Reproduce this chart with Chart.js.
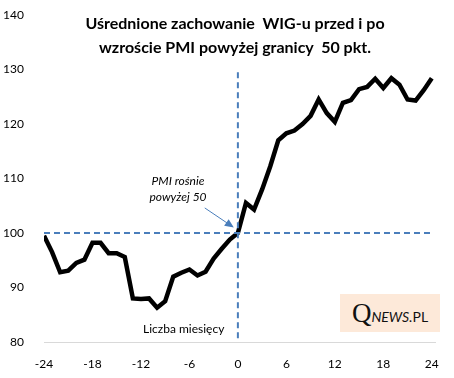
<head>
    <title> WIG a PMI </title>
</head>

<body>
    <div id="wrap">
        <canvas id="wigChart" width="454" height="378"></canvas>
        <div id="title">Uśrednione zachowanie&nbsp; WIG-u przed i po<br>wzroście PMI powyżej granicy&nbsp; 50 pkt.</div>
        <div id="note">PMI rośnie<br>powyżej 50</div>
        <div id="xname">Liczba miesięcy</div>
        <div id="logo"><span class="q">Q</span><span class="n">NEWS.</span><span class="p">PL</span></div>
    </div>

    <script src="https://cdn.jsdelivr.net/npm/chart.js@4.4.3/dist/chart.umd.js"></script>

    <script>
        // months relative to PMI crossing 50
        const months = [-24, -23, -22, -21, -20, -19, -18, -17, -16, -15, -14, -13, -12, -11, -10, -9, -8, -7, -6, -5, -4, -3, -2, -1,
            0, 1, 2, 3, 4, 5, 6, 7, 8, 9, 10, 11, 12, 13, 14, 15, 16, 17, 18, 19, 20, 21, 22, 23, 24];
        const wig = [99.5, 96.5, 92.8, 93.1, 94.5, 95.1, 98.2, 98.2, 96.3, 96.3, 95.6, 88.0, 87.9, 88.0, 86.3, 87.5, 92.0, 92.7, 93.3, 92.2, 92.9, 95.3, 97.1, 98.8,
            100, 105.5, 104.3, 108, 112.2, 117, 118.3, 118.8, 120, 121.5, 124.5, 122, 120.4, 123.9, 124.4, 126.4, 126.8, 128.3, 126.6, 128.4, 127.2, 124.5, 124.3, 126.2, 128.4];
        const yTicks = [80, 90, 100, 110, 120, 130, 140];
        const xTicks = [-24, -18, -12, -6, 0, 6, 12, 18, 24];
        const baseLevel = 100;      // horizontal dashed line
        const vLineTop = 129.5;     // vertical dashed line at month 0
        const arrowFrom = [-4.1, 104.6];
        const arrowTo = [-0.5, 101.0];

        const blue = '#4a7ebb';

        const arrowPlugin = {
            id: 'arrow',
            afterDatasetsDraw(chart) {
                const { ctx, scales: { x, y } } = chart;
                const x1 = x.getPixelForValue(arrowFrom[0]), y1 = y.getPixelForValue(arrowFrom[1]);
                const x2 = x.getPixelForValue(arrowTo[0]), y2 = y.getPixelForValue(arrowTo[1]);
                const a = Math.atan2(y2 - y1, x2 - x1);
                ctx.save();
                ctx.strokeStyle = blue;
                ctx.fillStyle = blue;
                ctx.lineWidth = 1;
                ctx.beginPath();
                ctx.moveTo(x1, y1);
                ctx.lineTo(x2 - 6 * Math.cos(a), y2 - 6 * Math.sin(a));
                ctx.stroke();
                ctx.beginPath();
                ctx.moveTo(x2, y2);
                ctx.lineTo(x2 - 9 * Math.cos(a) + 4 * Math.sin(a), y2 - 9 * Math.sin(a) - 4 * Math.cos(a));
                ctx.lineTo(x2 - 9 * Math.cos(a) - 4 * Math.sin(a), y2 - 9 * Math.sin(a) + 4 * Math.cos(a));
                ctx.closePath();
                ctx.fill();
                ctx.restore();
            }
        };

        new Chart(document.getElementById('wigChart'), {
            type: 'line',
            data: {
                datasets: [{
                    label: 'poziom 100',
                    data: [{ x: months[0], y: baseLevel }, { x: months[months.length - 1], y: baseLevel }],
                    borderColor: blue,
                    borderWidth: 2,
                    borderDash: [6, 4],
                    pointRadius: 0
                }, {
                    label: 'miesiąc 0',
                    data: [{ x: 0, y: vLineTop }, { x: 0, y: yTicks[0] }],
                    borderColor: blue,
                    borderWidth: 2,
                    borderDash: [6, 4],
                    pointRadius: 0
                }, {
                    label: 'WIG',
                    data: months.map((m, i) => ({ x: m, y: wig[i] })),
                    borderColor: '#000',
                    borderWidth: 4.5,
                    pointRadius: 0,
                    tension: 0
                }]
            },
            options: {
                responsive: false,
                animation: false,
                layout: { padding: { top: 15, right: 19, left: 0, bottom: 0 } },
                plugins: { legend: { display: false }, tooltip: { enabled: false } },
                scales: {
                    x: {
                        type: 'linear',
                        min: -24,
                        max: 24.4,
                        grid: { display: false },
                        border: { display: true, color: '#d9d9d9', width: 1 },
                        afterBuildTicks: s => { s.ticks = xTicks.map(v => ({ value: v })); },
                        afterFit: s => { s.height = 36; },
                        ticks: { color: '#000', font: { family: 'Lato', size: 12 }, padding: 7, maxRotation: 0 }
                    },
                    y: {
                        min: 80,
                        max: 140,
                        grid: { display: false },
                        border: { display: false },
                        afterBuildTicks: s => { s.ticks = yTicks.map(v => ({ value: v })); },
                        afterFit: s => { s.width = 44; s.paddingTop = 0; s.paddingBottom = 0; },
                        ticks: { color: '#000', font: { family: 'Lato', size: 12 }, padding: 12 }
                    }
                }
            },
            plugins: [arrowPlugin]
        });
    </script>
</body>

<style>
    body {
        margin: 0px;
        background: #fff;
        font-family: 'Lato', sans-serif;
    }

    #wrap {
        position: relative;
        width: 454px;
        height: 378px;
    }

    #title {
        position: absolute;
        left: 0;
        width: 470px;
        top: 11px;
        text-align: center;
        font-weight: bold;
        font-size: 16px;
        line-height: 24px;
        color: #000;
    }

    #note {
        position: absolute;
        left: 128px;
        width: 100px;
        top: 173px;
        text-align: center;
        font-style: italic;
        font-size: 12px;
        line-height: 16px;
        color: #000;
    }

    #xname {
        position: absolute;
        left: 143px;
        top: 321px;
        font-size: 12px;
        color: #000;
    }

    #logo {
        position: absolute;
        left: 340px;
        top: 294px;
        width: 100px;
        height: 38px;
        background: #fde9d9;
        text-align: center;
        line-height: 38px;
        color: #111;
    }

    #logo .q {
        font-family: 'Liberation Serif', serif;
        font-size: 27px;
    }

    #logo .n {
        font-style: italic;
        font-size: 14px;
    }

    #logo .p {
        font-size: 14px;
    }
</style>
